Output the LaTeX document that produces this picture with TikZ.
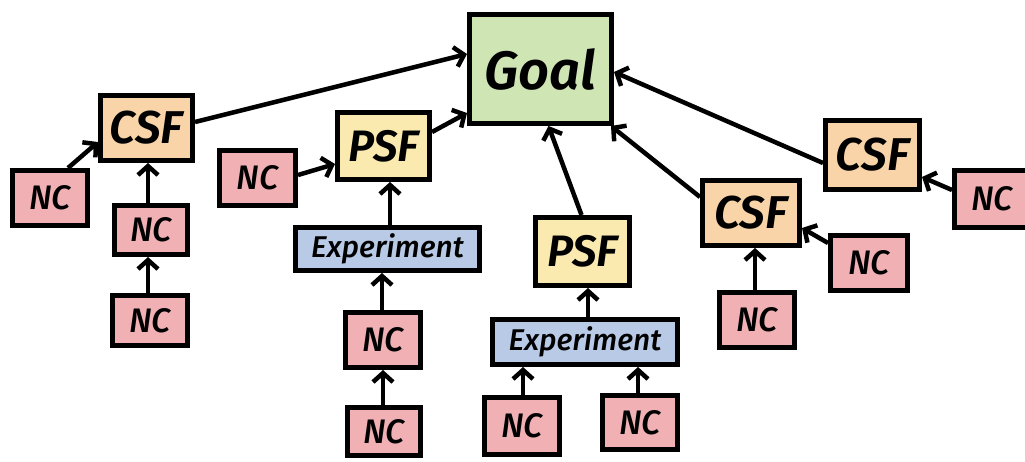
\documentclass[tikz,border=0pt]{standalone}
\usepackage{fontspec}
\setmainfont{Fira Sans}
\newfontfamily\medfont{Fira Sans Medium Italic}
\newfontfamily\semifont{Fira Sans SemiBold Italic}
\usetikzlibrary{arrows.meta}
\definecolor{goalc}{HTML}{CFE6B4}
\definecolor{csfc}{HTML}{F8D4A8}
\definecolor{psfc}{HTML}{FBEAB0}
\definecolor{ncc}{HTML}{F0B0B4}
\definecolor{expc}{HTML}{B8CAE6}
\newcommand{\fs}[1]{\fontsize{#1}{#1}\selectfont}
\tikzset{
  box/.style={draw=black, line width=5pt, rectangle, inner sep=0pt, line join=miter},
  goalbox/.style={box, fill=goalc, minimum width=142pt, minimum height=109pt, font=\semifont\fs{54}},
  csfbox/.style={box, fill=csfc, font=\semifont\fs{46}},
  psfbox/.style={box, fill=psfc, font=\semifont\fs{44}},
  ncbox/.style={box, fill=ncc, font=\medfont\fs{34}},
  expbox/.style={box, fill=expc, font=\medfont\fs{30}},
  arr/.style={draw=black, line width=4.5pt, -{Straight Barb[length=9pt,width=20pt]}},
}
\begin{document}
\begin{tikzpicture}[x=1pt, y=-1pt]
\useasboundingbox[fill=white] (0,0) rectangle (1025,461);
% nodes
\node[goalbox] (goal) at (540.5,69) {Goal};
\node[csfbox, minimum width=92pt, minimum height=65pt] (csf1) at (146.5,128) {CSF};
\node[ncbox, minimum width=75pt, minimum height=55pt] (nc1) at (50,198) {NC};
\node[ncbox, minimum width=73pt, minimum height=49pt] (nc2) at (151,230) {NC};
\node[ncbox, minimum width=75pt, minimum height=50pt] (nc3) at (150,320.5) {NC};
\node[ncbox, minimum width=76pt, minimum height=55pt] (nc4) at (257.5,178) {NC};
\node[psfbox, minimum width=92pt, minimum height=67pt] (psf1) at (383.5,146) {PSF};
\node[expbox, minimum width=184pt, minimum height=43pt] (exp1) at (387.5,249) {Experiment};
\node[ncbox, minimum width=75pt, minimum height=55pt] (nc5) at (383,340) {NC};
\node[ncbox, minimum width=73pt, minimum height=48pt] (nc6) at (384,431.5) {NC};
\node[psfbox, minimum width=94pt, minimum height=68pt] (psf2) at (582.5,251.5) {PSF};
\node[expbox, minimum width=185pt, minimum height=45pt] (exp2) at (585,342) {Experiment};
\node[ncbox, minimum width=75pt, minimum height=57pt] (nc7) at (522,426) {NC};
\node[ncbox, minimum width=75pt, minimum height=54pt] (nc8) at (640,422.5) {NC};
\node[csfbox, minimum width=94pt, minimum height=69pt] (csf3) at (872.5,155) {CSF};
\node[csfbox, minimum width=97pt, minimum height=65pt] (csf2) at (751,213) {CSF};
\node[ncbox, minimum width=75pt, minimum height=57pt] (nc9) at (992,199) {NC};
\node[ncbox, minimum width=77pt, minimum height=55pt] (nc10) at (869,263) {NC};
\node[ncbox, minimum width=75pt, minimum height=55pt] (nc11) at (757,320) {NC};
% connectors
\draw[arr] ([yshift=6pt]csf1.east) -- ([yshift=15pt]goal.west);
\draw[arr] ([yshift=14pt]psf1.east) -- ([yshift=-44pt]goal.west);
\draw[arr] ([yshift=3pt]nc4.east) -- ([yshift=-18pt]psf1.west);
\draw[arr] ([xshift=2.5pt]exp1.north) -- ([xshift=6.5pt]psf1.south);
\draw[arr] ([xshift=-1pt]nc5.north) -- ([xshift=-5.5pt]exp1.south);
\draw[arr] ([xshift=-1pt]nc6.north) -- (nc5.south);
\draw[arr] ([xshift=-1pt]psf2.north) -- ([xshift=8pt]goal.south);
\draw[arr] ([xshift=3pt]exp2.north) -- ([xshift=5.5pt]psf2.south);
\draw[arr] ([xshift=1pt]nc7.north) -- ([xshift=-62pt]exp2.south);
\draw[arr] ([xshift=-2pt]nc8.north) -- ([xshift=53pt]exp2.south);
\draw[arr] ([yshift=16pt]csf2.west) -- ([xshift=-3pt]goal.south east);
\draw[arr] ([yshift=-8pt]csf3.west) -- ([yshift=-3pt]goal.east);
\draw[arr] ([yshift=9pt]nc9.west) -- ([yshift=-22pt]csf3.east);
\draw[arr] ([yshift=20pt]nc10.west) -- ([yshift=-15pt]csf2.east);
\draw[arr] ([xshift=-2pt]nc11.north) -- ([xshift=4pt]csf2.south);
\draw[arr] ([xshift=18pt]nc1.north) -- ([yshift=-14pt]csf1.west);
\draw[arr] ([xshift=-3pt]nc2.north) -- ([xshift=1.5pt]csf1.south);
\draw[arr] ([xshift=-2pt]nc3.north) -- ([xshift=-3pt]nc2.south);
\end{tikzpicture}
\end{document}
